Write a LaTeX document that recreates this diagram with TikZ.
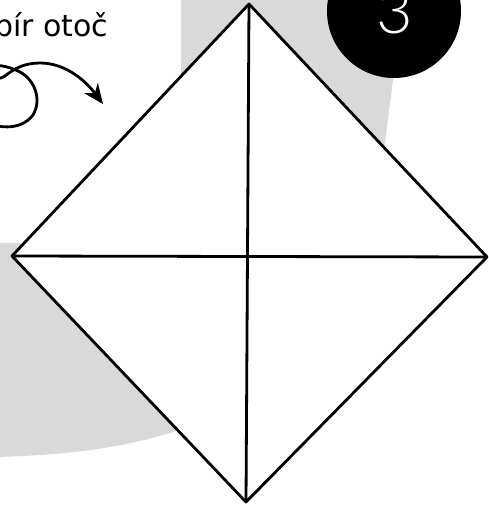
\documentclass[tikz,border=0pt]{standalone}
\usepackage{fontspec}
\usetikzlibrary{arrows.meta}
\newfontfamily\labelfont{DejaVu Sans}
\newfontfamily\numfont{Lato Light}
\definecolor{paper}{RGB}{217,217,217}
\begin{document}
\begin{tikzpicture}[x=1pt, y=-1pt, >={Stealth[length=20pt,width=17pt]},
  fold/.style={line width=2.8pt, line join=round}]
\useasboundingbox (0,0) rectangle (489,508);
% grey card behind the sheet
\fill[paper] (181,-5) -- (404,-5) -- (385,142) -- (370,250) -- (200,423)
  .. controls (140,445) and (80,455) .. (-5,457) -- (-5,243) -- (181,243) -- cycle;
\coordinate (top) at (249,4);
\coordinate (left) at (12,256);
\coordinate (bottom) at (246,502);
\coordinate (right) at (487,257);
\filldraw[fold, fill=white] (top) -- (right) -- (bottom) -- (left) -- cycle;
\draw[fold] (top) -- (bottom);
\draw[fold] (left) -- (right);
% step number
\node[circle, fill=black, minimum size=134pt, inner sep=0pt] (num) at (394,11) {};
\node[anchor=base, text=white, font=\numfont\fontsize{63}{63}\selectfont] (numtext) at (395,34) {3};
% turn the paper over
\node[anchor=base west, inner sep=0pt, font=\labelfont\fontsize{30}{30}\selectfont] (turn) at (-6,37) {pír otoč};
\draw[line width=2.8pt, ->] (-20,120) .. controls (-5,128) and (20,132) .. (33,115)
  .. controls (42,100) and (35,80) .. (20,72) .. controls (8,66) and (-8,62) .. (-12,70)
  .. controls (-15,78) and (-5,82) .. (5,76) .. controls (15,68) and (25,63) .. (40,63)
  .. controls (65,63) and (85,80) .. (103,104);
\end{tikzpicture}
\end{document}
